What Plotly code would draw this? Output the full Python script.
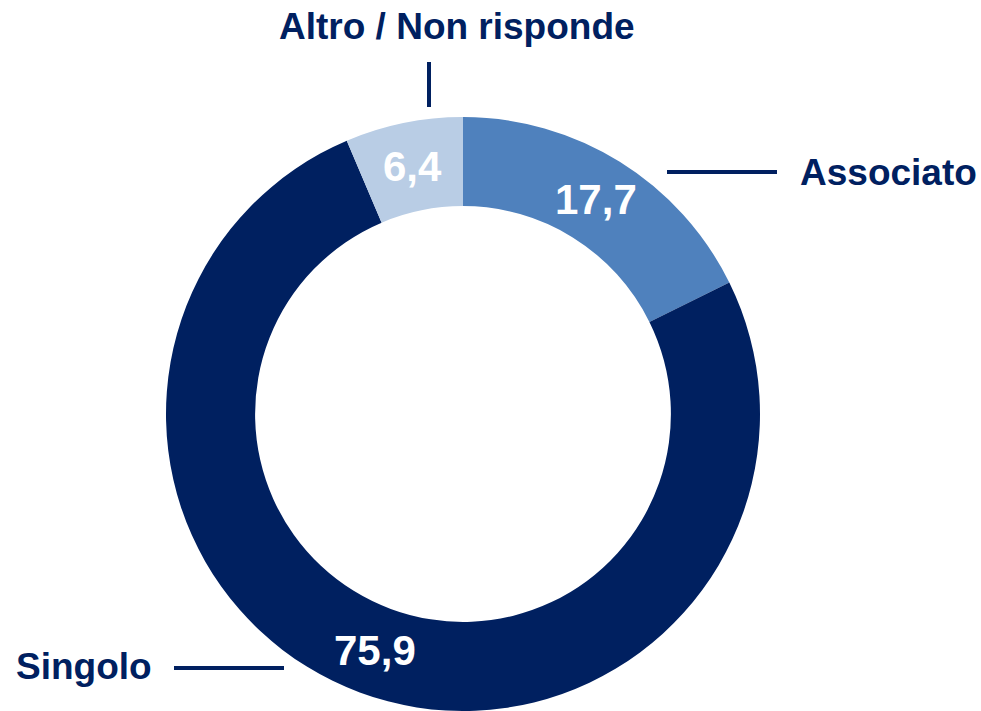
import math
import plotly.graph_objects as go

categories = ["Associato", "Singolo", "Altro / Non risponde"]
values = [17.7, 75.9, 6.4]
colors = ["#4F81BD", "#002060", "#B9CDE5"]

W, H = 981, 711
def px(x):
    return x / W
def py(y):
    return 1 - y / H

# donut geometry (pixels)
CX, TOP, R = 463, 117, 297
HOLE = 0.70
CY = TOP + R

fig = go.Figure()
fig.add_trace(go.Pie(
    labels=categories,
    values=values,
    sort=False,
    direction="clockwise",
    rotation=0,
    hole=HOLE,
    marker=dict(colors=colors, line=dict(width=0)),
    textinfo="none",
    domain=dict(x=[px(CX - R - 1), px(CX + R + 1)], y=[0, py(TOP)]),
    showlegend=False,
    hoverinfo="label+value",
))

# value labels placed at the mid-angle of each slice, mid-ring
value_font = dict(family="Liberation Sans, Arial, sans-serif", size=42, color="white", weight="bold")
total = sum(values)
cum = 0.0
rmid = R * (1 + HOLE) / 2
for v in values:
    a = 2 * math.pi * (cum + v / 2) / total
    cum += v
    x = CX + rmid * math.sin(a)
    y = CY - rmid * math.cos(a)
    fig.add_annotation(x=px(x), y=py(y), xref="paper", yref="paper",
                       text=f"{v:.1f}".replace(".", ","), showarrow=False,
                       xanchor="center", yanchor="middle", font=value_font)

label_font = dict(family="Liberation Sans, Arial, sans-serif", size=37, color="#002060", weight="bold")
line_style = dict(color="#002060", width=4)

fig.add_annotation(x=px(457), y=py(27), xref="paper", yref="paper", text="Altro / Non risponde",
                   showarrow=False, xanchor="center", yanchor="middle", font=label_font)
fig.add_annotation(x=px(798), y=py(172), xref="paper", yref="paper", text="Associato",
                   showarrow=False, xanchor="left", yanchor="middle", font=label_font)
fig.add_annotation(x=px(14), y=py(666), xref="paper", yref="paper", text="Singolo",
                   showarrow=False, xanchor="left", yanchor="middle", font=label_font)

fig.add_shape(type="line", xref="paper", yref="paper", x0=px(429), x1=px(429), y0=py(62), y1=py(107), line=line_style)
fig.add_shape(type="line", xref="paper", yref="paper", x0=px(667), x1=px(777), y0=py(172), y1=py(172), line=line_style)
fig.add_shape(type="line", xref="paper", yref="paper", x0=px(174), x1=px(284), y0=py(668), y1=py(668), line=line_style)

fig.update_layout(
    width=W, height=H,
    margin=dict(l=0, r=0, t=0, b=0),
    paper_bgcolor="white",
    plot_bgcolor="white",
    separators=", ",
)

fig.write_html("out.html", config={"displayModeBar": False},
               post_script="document.body.style.margin='0';")
